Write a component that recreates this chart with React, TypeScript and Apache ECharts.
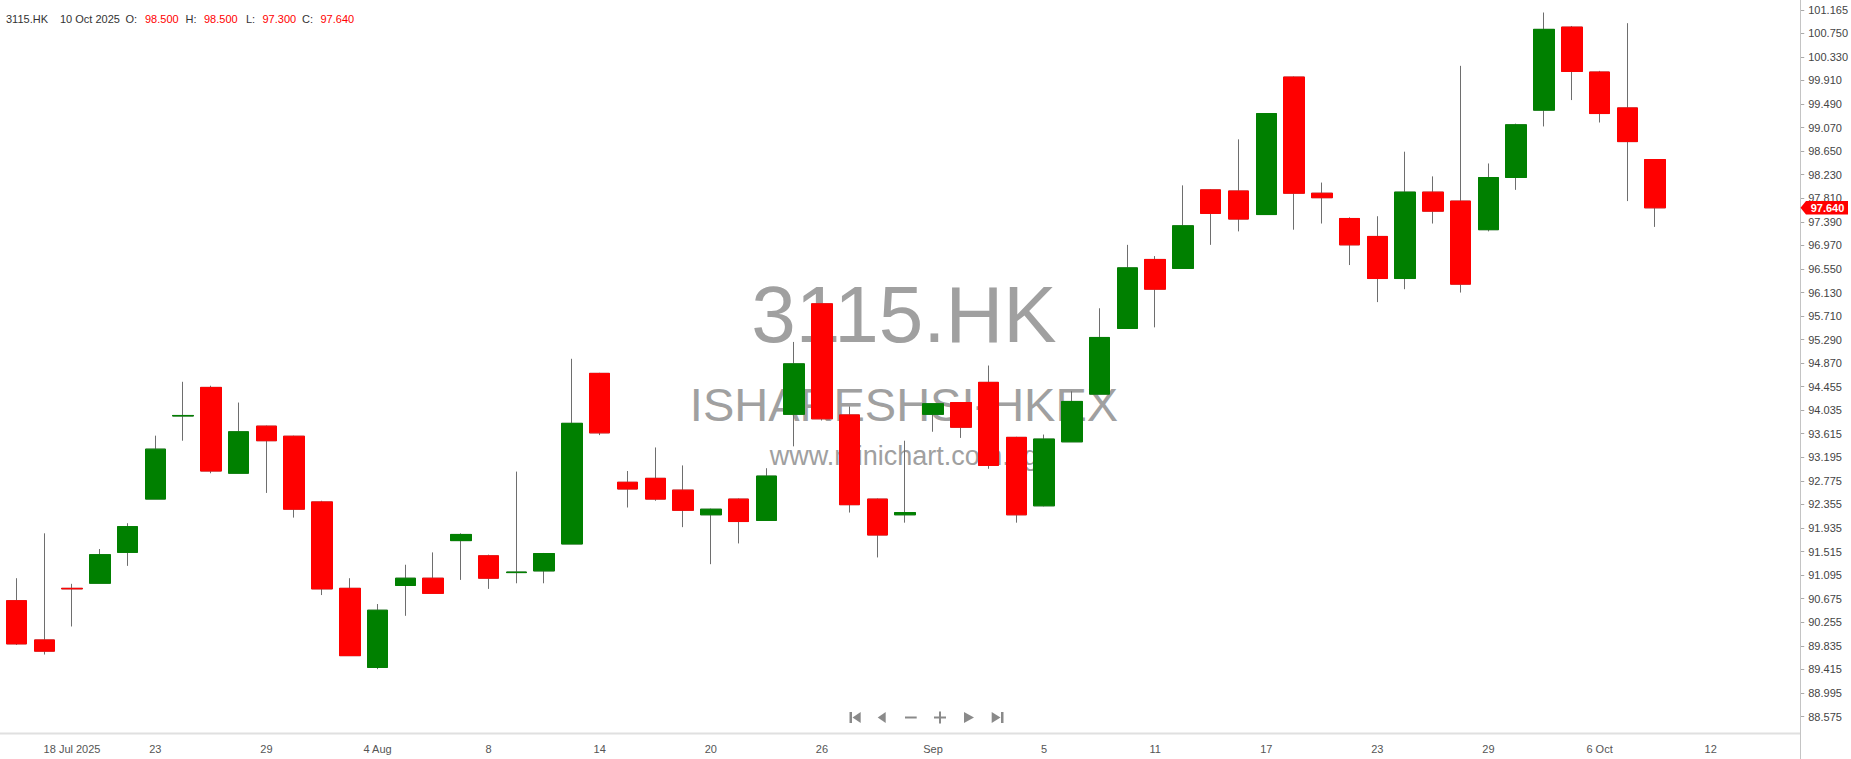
import React, { useEffect, useRef } from "react";
import * as echarts from "echarts";

const symbol = "3115.HK";
const fullName = "ISHARESHSI-HKEX";
const site = "www.minichart.com.sg";

const dates = [
  "2025-07-16", "2025-07-17", "2025-07-18", "2025-07-21", "2025-07-22", "2025-07-23", "2025-07-24", "2025-07-25",
  "2025-07-28", "2025-07-29", "2025-07-30", "2025-07-31", "2025-08-01", "2025-08-04", "2025-08-05", "2025-08-06",
  "2025-08-07", "2025-08-08", "2025-08-11", "2025-08-12", "2025-08-13", "2025-08-14", "2025-08-15", "2025-08-18",
  "2025-08-19", "2025-08-20", "2025-08-21", "2025-08-22", "2025-08-25", "2025-08-26", "2025-08-27", "2025-08-28",
  "2025-08-29", "2025-09-01", "2025-09-02", "2025-09-03", "2025-09-04", "2025-09-05", "2025-09-08", "2025-09-09",
  "2025-09-10", "2025-09-11", "2025-09-12", "2025-09-15", "2025-09-16", "2025-09-17", "2025-09-18", "2025-09-19",
  "2025-09-22", "2025-09-23", "2025-09-24", "2025-09-25", "2025-09-26", "2025-09-29", "2025-09-30", "2025-10-02",
  "2025-10-03", "2025-10-06", "2025-10-09", "2025-10-10",
];
const futureDates = ["2025-10-11", "2025-10-12", "2025-10-13", "2025-10-14", "2025-10-15"];

const opens = [
  90.64, 89.94, 90.86, 90.95, 91.50, 92.45, 93.93, 94.44, 92.91, 93.75,
  93.57, 92.40, 90.86, 89.45, 90.91, 91.04, 91.71, 91.44, 91.14, 91.17,
  91.65, 94.69, 92.75, 92.82, 92.61, 92.17, 92.45, 92.07, 93.96, 95.93,
  93.95, 92.45, 92.17, 93.96, 94.17, 94.53, 93.55, 92.33, 93.47, 94.32,
  95.49, 96.72, 96.56, 97.96, 97.94, 97.52, 99.97, 97.90, 97.45, 97.13,
  96.38, 97.92, 97.76, 97.25, 98.18, 99.38, 100.86, 100.06, 99.42, 98.50,
];
const highs = [
  91.04, 91.84, 90.94, 91.56, 92.02, 93.58, 94.54, 94.47, 94.17, 93.76,
  93.58, 92.42, 91.04, 90.58, 91.28, 91.50, 91.84, 91.46, 92.94, 91.49,
  94.95, 94.70, 92.95, 93.37, 93.05, 92.28, 92.46, 93.00, 95.25, 95.94,
  94.10, 92.46, 93.49, 94.15, 94.18, 94.83, 93.56, 93.60, 94.37, 95.85,
  96.98, 96.78, 98.04, 97.97, 98.86, 99.32, 99.98, 98.09, 97.47, 97.49,
  98.64, 98.20, 100.17, 98.43, 99.14, 101.12, 100.88, 100.08, 100.93, 98.50,
];
const lows = [
  89.85, 89.68, 90.18, 90.95, 91.26, 92.45, 93.49, 92.91, 92.91, 92.56,
  92.12, 90.74, 89.66, 89.42, 90.37, 90.77, 91.01, 90.85, 90.95, 90.95,
  91.65, 93.59, 92.30, 92.42, 91.95, 91.29, 91.66, 92.07, 93.39, 93.85,
  92.21, 91.41, 92.03, 93.65, 93.54, 92.99, 92.03, 92.32, 93.47, 94.32,
  95.49, 95.51, 96.56, 96.98, 97.22, 97.52, 97.25, 97.36, 96.62, 95.96,
  96.19, 97.36, 96.13, 97.22, 97.96, 99.09, 99.56, 99.16, 97.76, 97.30,
];
const closes = [
  89.87, 89.74, 90.85, 91.46, 91.96, 93.34, 93.94, 92.95, 93.65, 93.49,
  92.27, 90.85, 89.66, 90.47, 91.04, 90.77, 91.82, 91.04, 91.15, 91.48,
  93.80, 93.63, 92.63, 92.45, 92.25, 92.27, 92.05, 92.86, 94.86, 93.88,
  92.35, 91.81, 92.21, 94.15, 93.73, 93.05, 92.17, 93.52, 94.19, 95.33,
  96.57, 96.19, 97.32, 97.54, 97.44, 99.32, 97.90, 97.82, 96.98, 96.38,
  97.92, 97.58, 96.28, 98.18, 99.12, 100.82, 100.07, 99.32, 98.82, 97.64,
];

const xLabelDates = [
  "2025-07-18", "2025-07-23", "2025-07-29", "2025-08-04", "2025-08-08", "2025-08-14", "2025-08-20", "2025-08-26",
  "2025-09-01", "2025-09-05", "2025-09-11", "2025-09-17", "2025-09-23", "2025-09-29", "2025-10-06", "2025-10-12",
];
const xLabelTexts = ["18 Jul 2025", "23", "29", "4 Aug", "8", "14", "20", "26", "Sep", "5", "11", "17", "23", "29", "6 Oct", "12"];

const yTicks = [
  88.575, 88.995, 89.415, 89.835, 90.255, 90.675, 91.095, 91.515, 91.935, 92.355, 92.775, 93.195, 93.615, 94.035,
  94.455, 94.870, 95.290, 95.710, 96.130, 96.550, 96.970, 97.390, 97.810, 98.230, 98.650, 99.070, 99.490, 99.910,
  100.330, 100.750, 101.165,
];

const UP = "#008000";
const DOWN = "#ff0000";
const WICK = "#6e6e6e";
const FONT = "'Liberation Sans', Arial, sans-serif";
const MONTHS = ["Jan", "Feb", "Mar", "Apr", "May", "Jun", "Jul", "Aug", "Sep", "Oct", "Nov", "Dec"];

function fmtDate(d: string) {
  const [y, m, dd] = d.split("-");
  return `${parseInt(dd, 10)} ${MONTHS[parseInt(m, 10) - 1]} ${y}`;
}

export default function App() {
  const ref = useRef<HTMLDivElement>(null);
  useEffect(() => {
    if (!ref.current) return;
    const chart = echarts.init(ref.current, null, { renderer: "svg" });
    const cats = dates.concat(futureDates);
    const ohlc = dates.map((_, i) => [opens[i], closes[i], lows[i], highs[i]]);
    const bodies = dates.map((_, i) => [
      opens[i], closes[i], Math.min(opens[i], closes[i]), Math.max(opens[i], closes[i]),
    ]);
    const last = dates.length - 1;

    chart.setOption({
      animation: false,
      grid: { left: 2.6, top: 0, width: 1805.4, height: 733 },
      xAxis: {
        type: "category",
        data: cats,
        boundaryGap: true,
        axisLine: { show: false },
        axisTick: { show: false },
        splitLine: { show: false },
        axisLabel: {
          interval: 0,
          margin: 10,
          color: "#555",
          fontSize: 11,
          fontFamily: FONT,
          formatter: (v: string) => {
            const k = xLabelDates.indexOf(v);
            return k >= 0 ? xLabelTexts[k] : "";
          },
        },
      },
      yAxis: {
        type: "value",
        position: "right",
        offset: -7.6,
        min: 88.282,
        max: 101.343,
        axisLine: { show: false },
        splitLine: { show: false },
        axisTick: { show: true, length: 4, customValues: yTicks, lineStyle: { color: "#aaa" } },
        axisLabel: {
          customValues: yTicks,
          formatter: (v: number) => v.toFixed(3),
          color: "#444",
          fontSize: 11,
          margin: 8,
          fontFamily: FONT,
        },
      },
      series: [
        {
          type: "candlestick",
          data: ohlc,
          barWidth: 21,
          z: 3,
          itemStyle: {
            color: "transparent",
            color0: "transparent",
            borderColor: WICK,
            borderColor0: WICK,
            borderWidth: 1,
          },
        },
        {
          type: "candlestick",
          data: bodies,
          barWidth: 21,
          z: 4,
          itemStyle: { color: UP, color0: DOWN, borderColor: UP, borderColor0: DOWN, borderWidth: 1 },
        },
      ],
    });

    const yTag = chart.convertToPixel({ yAxisIndex: 0 }, closes[last]) as number;
    const hdrY = 18.5;
    const lab = (x: number, t: string, c: string) => ({
      type: "text", x, y: hdrY, z: 50,
      style: { text: t, fill: c, font: `11px ${FONT}`, verticalAlign: "middle" },
    });
    const tri = (pts: number[][]) => ({ type: "polygon", z: 50, shape: { points: pts }, style: { fill: "#8a8a8a" } });
    const rc = (x: number, y: number, w: number, h: number) => ({
      type: "rect", z: 50, shape: { x, y, width: w, height: h }, style: { fill: "#8a8a8a" },
    });
    const wm = (t: string, y: number, size: number) => ({
      type: "text", x: 904, y, z: 1, silent: true,
      style: { text: t, fill: "#a0a0a0", font: `${size}px ${FONT}`, align: "center", verticalAlign: "middle" },
    });

    chart.setOption({
      graphic: {
        elements: [
          wm(symbol, 314, 80),
          wm(fullName, 404, 47),
          wm(site, 456, 27),
          { type: "line", z: 40, shape: { x1: 1800.5, y1: 0, x2: 1800.5, y2: 759 }, style: { stroke: "#c4c4c4", lineWidth: 1 } },
          { type: "line", z: 40, shape: { x1: 0, y1: 733.5, x2: 1800, y2: 733.5 }, style: { stroke: "#e0e0e0", lineWidth: 2 } },
          lab(6, symbol, "#333"),
          lab(60, fmtDate(dates[last]), "#333"),
          lab(125.5, "O:", "#333"),
          lab(145, opens[last].toFixed(3), DOWN),
          lab(185.5, "H:", "#333"),
          lab(204, highs[last].toFixed(3), DOWN),
          lab(246, "L:", "#333"),
          lab(262.5, lows[last].toFixed(3), DOWN),
          lab(302, "C:", "#333"),
          lab(320.5, closes[last].toFixed(3), DOWN),
          rc(849.5, 712, 2.5, 11),
          tri([[860.7, 712], [860.7, 723], [852.5, 717.5]]),
          tri([[885.7, 712], [885.7, 723], [877.7, 717.5]]),
          rc(905, 716.5, 11.7, 2),
          rc(934, 716.5, 12, 2),
          rc(939, 711.5, 2, 12),
          tri([[964, 712], [964, 723], [974, 717.5]]),
          tri([[991.7, 712], [991.7, 723], [1000.5, 717.5]]),
          rc(1001, 712, 2.5, 11),
          {
            type: "polygon", z: 60,
            shape: { points: [[1800.5, yTag], [1806, yTag - 6.7], [1848, yTag - 6.7], [1848, yTag + 6.7], [1806, yTag + 6.7]] },
            style: { fill: DOWN },
          },
          {
            type: "text", x: 1827.5, y: yTag, z: 61,
            style: {
              text: closes[last].toFixed(3), fill: "#fff", font: `bold 11px ${FONT}`,
              align: "center", verticalAlign: "middle",
            },
          },
        ],
      },
    });

    return () => chart.dispose();
  }, []);
  return (
    <div
      ref={ref}
      style={{ position: "fixed", left: 0, top: 0, width: 1851, height: 759, background: "#fff" }}
    />
  );
}
